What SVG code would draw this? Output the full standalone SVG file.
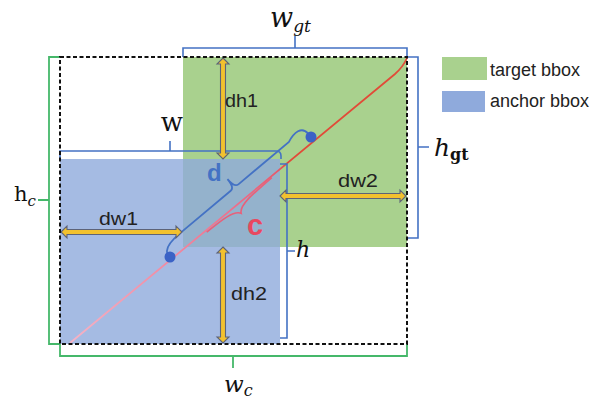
<svg xmlns="http://www.w3.org/2000/svg" width="602" height="411" viewBox="0 0 602 411">
<style>
.lbl{font-family:"Liberation Sans",Arial,sans-serif;fill:#222}
.mi{font-family:"DejaVu Serif","Liberation Serif",serif;font-style:italic;fill:#111}
.mu{font-family:"DejaVu Serif","Liberation Serif",serif;fill:#111}
.bb{fill:none;stroke:#4472c4;stroke-width:1.6}
.gb{fill:none;stroke:#45b86a;stroke-width:1.8}
.arr{fill:#f2c12e;stroke:#5d6378;stroke-width:1.1;stroke-linejoin:miter}
</style>
<defs>
<linearGradient id="diag" gradientUnits="userSpaceOnUse" x1="70" y1="343" x2="407" y2="58">
<stop offset="0" stop-color="#f5b3c6"/>
<stop offset="0.5" stop-color="#ec6d89"/>
<stop offset="0.61" stop-color="#e65a6c"/>
<stop offset="0.64" stop-color="#e14b38"/>
<stop offset="1" stop-color="#e14b38"/>
</linearGradient>
</defs>
<rect width="602" height="411" fill="#fff"/>
<g id="target-bbox"><rect x="183" y="57" width="224" height="190" fill="#a9d18e"/></g>
<g id="anchor-bbox"><rect x="60" y="159" width="220" height="185" fill="#8faadc" opacity="0.8"/></g>
<g id="connectors">
<path d="M70,343 L395,74 Q403,67 407,58" fill="none" stroke="url(#diag)" stroke-width="1.8"/>
<g transform="translate(241,203) rotate(-40)">
<path d="M-45,0.3 C-25,0.6 -10,1 -6.5,8 C-3,1 12,0.6 40,0.3" fill="none" stroke="#e8607a" stroke-width="1.6"/>
<path d="M-89,-8 C-88,-13 -80,-16 -66,-16 L0,-16 Q5,-16 5,-27 Q5,-16 10,-16 L76,-16 C86,-20 96,-20 96,-10" fill="none" stroke="#4472c4" stroke-width="1.8"/>
</g>
<path class="bb" d="M60,159 V151 H276 Q281,151 281,156 V159 M170,151 V141"/>
<path class="bb" d="M280,164 H287 V338 H280 M287,251 H295"/>
<path class="bb" d="M183,57 V48 H407 V57 M295,48 V36"/>
<path class="bb" d="M407,57 H418 V238 H407 M418,147 H429"/>
<path class="gb" d="M60,57 H49 V344 H60 M49,200 H38"/>
<path class="gb" d="M60,344 V356 H407 V344 M233,356 V368"/>
<polygon class="arr" points="223,58 229,64 225.5,64 225.5,153 229,153 223,159 217,153 220.5,153 220.5,64 217,64"/>
<polygon class="arr" points="223,247 229,253 225.5,253 225.5,337 229,337 223,343 217,337 220.5,337 220.5,253 217,253"/>
<polygon class="arr" points="61,232 67,226 67,229.5 176,229.5 176,226 182,232 176,238 176,234.5 67,234.5 67,238"/>
<polygon class="arr" points="280,196 286,190 286,193.5 400,193.5 400,190 406,196 400,202 400,198.5 286,198.5 286,202"/>
</g>
<g id="dots">
<circle cx="170" cy="257" r="5.5" fill="#3b62c6"/>
<circle cx="311" cy="137" r="5.5" fill="#3b62c6"/>
</g>
<g id="enclosing-box"><rect x="60" y="57" width="347" height="287" fill="none" stroke="#111" stroke-width="2" stroke-dasharray="4 2.5"/></g>
<g id="labels">
<text class="lbl" x="225" y="107" font-size="19" textLength="33" lengthAdjust="spacingAndGlyphs">dh1</text>
<text class="lbl" x="231" y="300" font-size="19" textLength="36" lengthAdjust="spacingAndGlyphs">dh2</text>
<text class="lbl" x="99" y="225" font-size="19" textLength="39" lengthAdjust="spacingAndGlyphs">dw1</text>
<text class="lbl" x="338" y="187" font-size="19" textLength="40" lengthAdjust="spacingAndGlyphs">dw2</text>
<text x="207" y="181" font-family="Liberation Sans,Arial,sans-serif" font-weight="bold" font-size="24" fill="#4472c4">d</text>
<text x="247" y="235" font-family="Liberation Sans,Arial,sans-serif" font-weight="bold" font-size="29" fill="#e8485f">c</text>
<text class="mu" x="172" y="131" font-size="26" text-anchor="middle">w</text>
<text class="mi" x="296" y="257" font-size="22">h</text>
<text class="mi" x="270" y="27" font-size="27">w<tspan font-size="17" dy="5">gt</tspan></text>
<text class="mi" x="434" y="156" font-size="25">h<tspan class="mu" font-style="normal" font-weight="bold" font-size="16" dy="4">gt</tspan></text>
<text class="mu" x="14" y="201" font-size="21">h<tspan class="mi" font-size="15" dy="5">c</tspan></text>
<text class="mi" x="224" y="392" font-size="23">w<tspan font-size="16" dy="4">c</tspan></text>
</g>
<g id="legend">
<rect x="442" y="57" width="45" height="23" fill="#a9d18e"/>
<rect x="442" y="91" width="43" height="21" fill="#8faadc"/>
<text class="lbl" x="490" y="76" font-size="18" fill="#333">target bbox</text>
<text class="lbl" x="490" y="107" font-size="18" fill="#333">anchor bbox</text>
</g>
</svg>
